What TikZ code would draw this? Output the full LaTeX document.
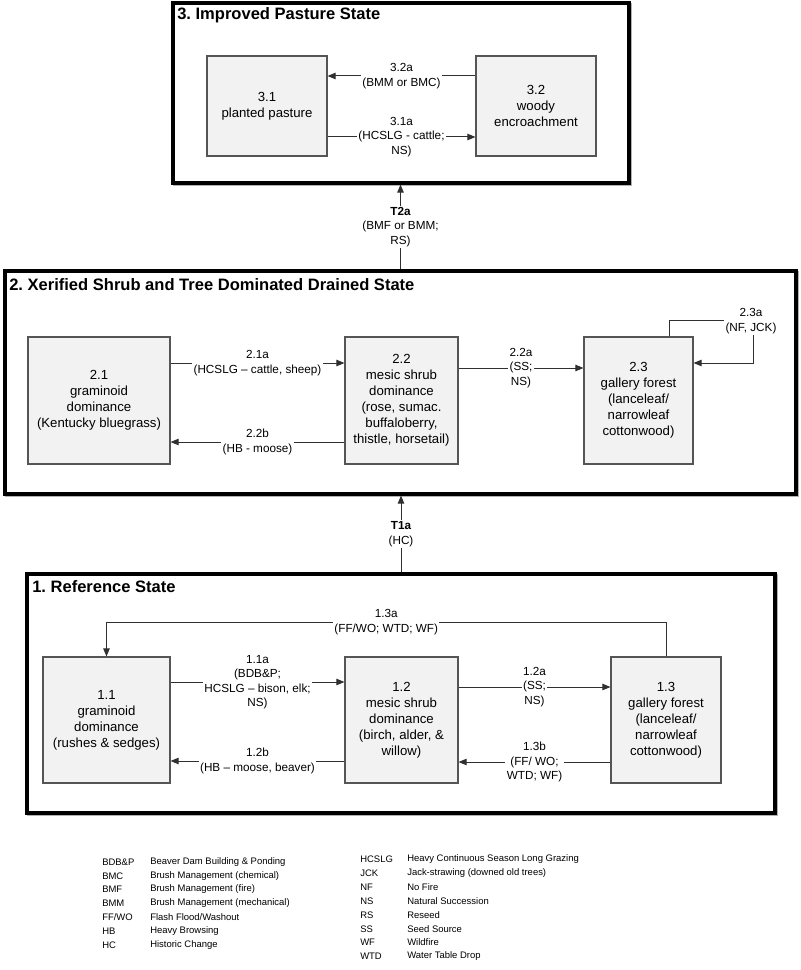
\documentclass[tikz,border=0pt]{standalone}
\usepackage{fontspec}
\setmainfont{Liberation Sans}
\usetikzlibrary{arrows.meta,shadows}
\definecolor{boxfill}{HTML}{F2F2F2}
\definecolor{boxline}{HTML}{555555}
\definecolor{linegray}{HTML}{303030}
\frenchspacing
\begin{document}
\begin{tikzpicture}[x=0.75pt,y=-0.75pt,
  stbox/.style={draw=boxline, fill=boxfill, line width=0.8pt, align=center, inner sep=0pt,
    font=\fontsize{9.9}{12}\selectfont},
  stateframe/.style={draw=black, fill=white, line width=2.3pt, inner sep=0pt,
    general shadow={shadow xshift=1pt, shadow yshift=-1pt, draw=gray!60, fill=none, line width=2.3pt}},
  lbl/.style={fill=white, align=center, inner sep=1pt, font=\fontsize{8.8}{10.8}\selectfont},
  arr/.style={draw=linegray, line width=0.75pt, -{Triangle[length=6pt,width=4.8pt]}},
  ttl/.style={anchor=west, inner sep=0pt, font=\bfseries\fontsize{12.4}{14}\selectfont},
  leg/.style={anchor=west, inner sep=0pt, font=\fontsize{7.1}{8}\selectfont}]
\useasboundingbox (0,0) rectangle (800,970);
% state frames
\node[stateframe, minimum width=342pt, minimum height=135pt] (s3) at (401,93) {};
\node[stateframe, minimum width=593.25pt, minimum height=167.25pt] (s2) at (400.5,382.5) {};
\node[stateframe, minimum width=561pt, minimum height=179.25pt] (s1) at (401,693.5) {};
\node[ttl] (t3) at (177,15) {3. Improved Pasture State};
\node[ttl] (t2) at (9,285) {2. Xerified Shrub and Tree Dominated Drained State};
\node[ttl] (t1) at (32,587) {1. Reference State};
% state 3 boxes
\node[stbox, minimum width=90pt, minimum height=75pt] (b31) at (267,106) {3.1\\planted pasture};
\node[stbox, minimum width=90pt, minimum height=75pt] (b32) at (536,106) {3.2\\woody\\encroachment};
% state 2 boxes
\node[stbox, minimum width=106.5pt, minimum height=95.25pt] (b21) at (99,400.5) {2.1\\graminoid\\dominance\\(Kentucky bluegrass)};
\node[stbox, minimum width=84.75pt, minimum height=95.25pt] (b22) at (401.5,400.5) {2.2\\mesic shrub\\dominance\\(rose, sumac.\\buffaloberry,\\thistle, horsetail)};
\node[stbox, minimum width=81.75pt, minimum height=95.25pt] (b23) at (638.5,400.5) {2.3\\gallery forest\\(lanceleaf/\\narrowleaf\\cottonwood)};
% state 1 boxes
\node[stbox, minimum width=95.25pt, minimum height=94.5pt] (b11) at (106.5,720) {1.1\\graminoid\\dominance\\(rushes \& sedges)};
\node[stbox, minimum width=84.75pt, minimum height=94.5pt] (b12) at (401.5,720) {1.2\\mesic shrub\\dominance\\(birch, alder, \&\\willow)};
\node[stbox, minimum width=82.5pt, minimum height=94.5pt] (b13) at (666,720) {1.3\\gallery forest\\(lanceleaf/\\narrowleaf\\cottonwood)};
% state 3 transitions
\draw[arr] (b32.west |- 0,76) -- node[lbl] {3.2a\\(BMM or BMC)} (b31.east |- 0,76);
\draw[arr] (b31.east |- 0,137) -- node[lbl] {3.1a\\(HCSLG - cattle;\\NS)} (b32.west |- 0,137);
% T2a, T1a
\draw[arr] (s2.north) -- node[lbl] {\textbf{T2a}\\(BMF or BMM;\\RS)} (s2.north |- s3.south);
\draw[arr] (s1.north) -- node[lbl] {\textbf{T1a}\\(HC)} (s1.north |- s2.south);
% state 2 transitions
\draw[arr] (b21.east |- 0,363) -- node[lbl] {2.1a\\(HCSLG -- cattle, sheep)} (b22.west |- 0,363);
\draw[arr] (b22.west |- 0,442) -- node[lbl] {2.2b\\(HB - moose)} (b21.east |- 0,442);
\draw[arr] (b22.east |- 0,368) -- node[lbl] {2.2a\\(SS;\\NS)} (b23.west |- 0,368);
\coordinate (c23a) at (669,320);
\coordinate (c23b) at (753,320);
\coordinate (c23c) at (753,363);
\draw[arr] (b23.north -| c23a) -- (c23a) -- (c23b) -- (c23c) -- (b23.east |- c23c);
\node[lbl] (l23a) at (751,321) {2.3a\\(NF, JCK)};
% state 1 transitions
\coordinate (c13a) at (666,622);
\coordinate (c13b) at (106.5,622);
\draw[arr] (b13.north) -- (c13a) -- node[lbl] {1.3a\\(FF/WO; WTD; WF)} (c13b) -- (b11.north);
\draw[arr] (b11.east |- 0,682) -- node[lbl] {1.1a\\(BDB\&P;\\HCSLG -- bison, elk;\\NS)} (b12.west |- 0,682);
\draw[arr] (b12.west |- 0,761) -- node[lbl] {1.2b\\(HB -- moose, beaver)} (b11.east |- 0,761);
\draw[arr] (b12.east |- 0,687) -- node[lbl] {1.2a\\(SS;\\NS)} (b13.west |- 0,687);
\draw[arr] (b13.west |- 0,762) -- node[lbl] {1.3b\\(FF/ WO;\\WTD; WF)} (b12.east |- 0,762);
% legend left
\node[leg] (la1) at (102,862) {BDB\&P};   \node[leg] (ld1) at (150,862) {Beaver Dam Building \& Ponding};
\node[leg] (la2) at (102,876) {BMC};      \node[leg] (ld2) at (150,876) {Brush Management (chemical)};
\node[leg] (la3) at (102,889) {BMF};      \node[leg] (ld3) at (150,889) {Brush Management (fire)};
\node[leg] (la4) at (102,903) {BMM};      \node[leg] (ld4) at (150,903) {Brush Management (mechanical)};
\node[leg] (la5) at (102,917) {FF/WO};    \node[leg] (ld5) at (150,917) {Flash Flood/Washout};
\node[leg] (la6) at (102,931) {HB};       \node[leg] (ld6) at (150,931) {Heavy Browsing};
\node[leg] (la7) at (102,945) {HC};       \node[leg] (ld7) at (150,945) {Historic Change};
% legend right
\node[leg] (ra1) at (360,859) {HCSLG};    \node[leg] (rd1) at (407,859) {Heavy Continuous Season Long Grazing};
\node[leg] (ra2) at (360,873) {JCK};      \node[leg] (rd2) at (407,873) {Jack-strawing (downed old trees)};
\node[leg] (ra3) at (360,887) {NF};       \node[leg] (rd3) at (407,887) {No Fire};
\node[leg] (ra4) at (360,901) {NS};       \node[leg] (rd4) at (407,901) {Natural Succession};
\node[leg] (ra5) at (360,915) {RS};       \node[leg] (rd5) at (407,915) {Reseed};
\node[leg] (ra6) at (360,929) {SS};       \node[leg] (rd6) at (407,929) {Seed Source};
\node[leg] (ra7) at (360,942) {WF};       \node[leg] (rd7) at (407,942) {Wildfire};
\node[leg] (ra8) at (360,956) {WTD};      \node[leg] (rd8) at (407,956) {Water Table Drop};
\end{tikzpicture}
\end{document}
